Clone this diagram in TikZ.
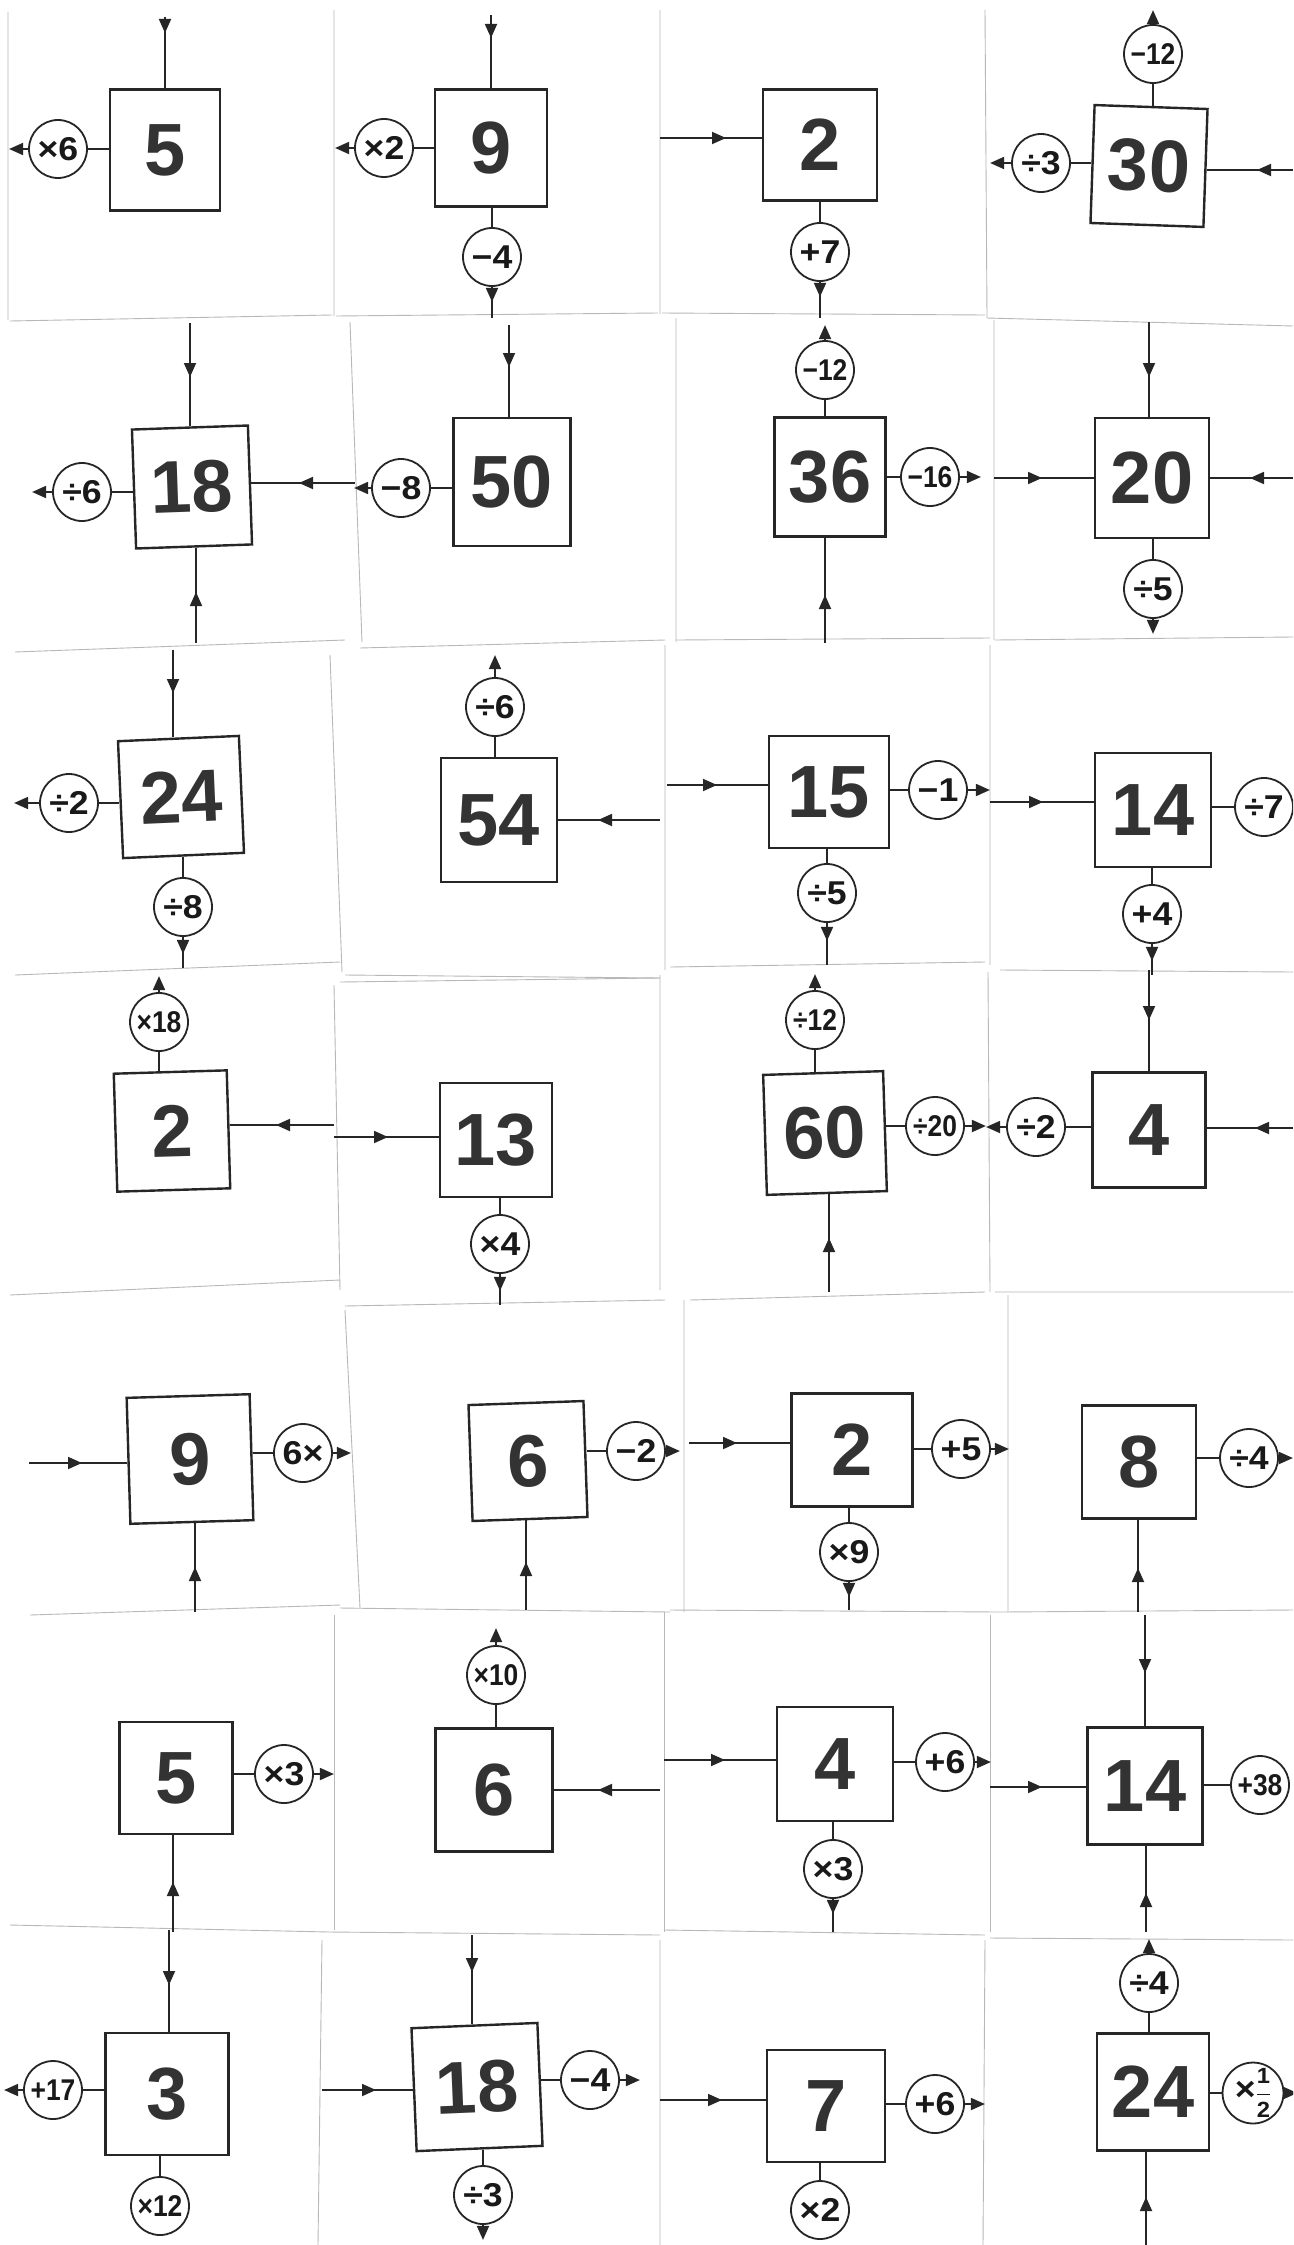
\documentclass[tikz,border=0pt]{standalone}
\usepackage{amsmath}
\usepackage{fontspec}
\setmainfont{Liberation Sans}
\newfontfamily\opfont{Liberation Sans}[FakeStretch=1.08]
\newfontfamily\opnarrow{Liberation Sans}[FakeStretch=0.88]
\usetikzlibrary{arrows.meta,decorations.markings}
\begin{document}
\begin{tikzpicture}[x=1pt,y=-1pt,
  numbox/.style={draw=black!85, line width=2.4pt, minimum width=114pt, minimum height=118pt, inner sep=0pt, font=\fontsize{74}{74}\selectfont\bfseries, text=black!80},
  op/.style={draw=black!85, circle, line width=1.8pt, minimum size=58pt, inner sep=0pt, font=\opfont\fontsize{33}{33}\selectfont\bfseries, text=black!90},
  opw/.style={op, font=\opnarrow\fontsize{30}{30}\selectfont\bfseries},
  ln/.style={draw=black!85, line width=1.8pt},
  outarr/.style={ln, -{Triangle[length=14pt,width=12pt]}},
  midarr/.style={postaction={decorate}, decoration={markings, mark=at position #1 with {\arrow{Triangle[length=14pt,width=12pt]}}}},
  cardedge/.style={draw=black!28, line width=0.9pt}
]
\useasboundingbox (0,0) rectangle (1293,2245);
\clip (0,0) rectangle (1293,2245);
\fill[white] (0,0) rectangle (1293,2245);

% ---------- card edges ----------
\draw[cardedge] (8,12) -- (8,320) (334,10) -- (334,316) (660,10) -- (660,314) (985,10) -- (987,318);
\draw[cardedge] (10,321) -- (332,315) (336,316) -- (658,313) (662,313) -- (985,315) (987,318) -- (1293,326);
\draw[cardedge] (350,322) -- (362,642) (676,318) -- (676,642) (994,320) -- (994,640);
\draw[cardedge] (15,652) -- (345,640) (360,648) -- (665,640) (676,640) -- (990,638) (995,640) -- (1293,637);
\draw[cardedge] (330,655) -- (342,972) (665,645) -- (665,970) (990,645) -- (990,965);
\draw[cardedge] (15,975) -- (340,962) (345,975) -- (660,978) (670,967) -- (985,962) (1000,970) -- (1293,972);
\draw[cardedge] (334,985) -- (340,1290) (660,975) -- (660,1290) (988,972) -- (990,1292) (340,982) -- (660,978);
\draw[cardedge] (10,1295) -- (340,1280) (345,1306) -- (665,1300) (690,1300) -- (985,1292) (995,1292) -- (1293,1292);
\draw[cardedge] (345,1310) -- (360,1608) (684,1300) -- (684,1612) (1008,1295) -- (1008,1612);
\draw[cardedge] (30,1615) -- (340,1605) (340,1608) -- (670,1612) (670,1610) -- (1000,1612) (1000,1612) -- (1293,1610);
\draw[cardedge] (334,1615) -- (334,1930) (664,1612) -- (664,1932) (990,1615) -- (990,1932);
\draw[cardedge] (10,1925) -- (330,1932) (330,1932) -- (660,1935) (665,1930) -- (985,1935) (990,1938) -- (1293,1940);
\draw[cardedge] (322,1940) -- (318,2245) (660,1940) -- (660,2245) (985,1940) -- (983,2245);

% ================= Row 1 =================
% A1
\node[numbox, minimum width=110pt, minimum height=121pt] (bA1) at (165,150) {5};
\node[op] (oA1l) at (58,149) {×6};
\coordinate (iA1t) at (165,17);
\draw[ln] (oA1l) -- (oA1l -| bA1.west);
\draw[outarr] (oA1l.west) -- ++(-19,0);
\draw[ln, midarr=16pt] (iA1t) -- (iA1t |- bA1.north);
% B1
\node[numbox, minimum width=112pt, minimum height=117pt] (bB1) at (491,148) {9};
\node[op] (oB1l) at (384,148) {×2};
\node[op] (oB1b) at (492,257) {−4};
\coordinate (iB1t) at (491,15);
\coordinate (eB1b) at (492,318);
\draw[ln] (oB1l) -- (oB1l -| bB1.west);
\draw[outarr] (oB1l.west) -- ++(-19,0);
\draw[ln] (oB1b) -- (oB1b |- bB1.south);
\draw[ln, midarr=15pt] (oB1b) -- (eB1b);
\draw[ln, midarr=23pt] (iB1t) -- (iB1t |- bB1.north);
% C1
\node[numbox, minimum width=114pt, minimum height=111pt] (bC1) at (820,145) {2};
\node[op] (oC1b) at (820,252) {+7};
\coordinate (iC1l) at (660,138);
\coordinate (eC1b) at (820,318);
\draw[ln, midarr=66pt] (iC1l) -- (iC1l -| bC1.west);
\draw[ln] (oC1b) -- (oC1b |- bC1.south);
\draw[ln, midarr=15pt] (oC1b) -- (eC1b);
% D1
\node[numbox, minimum width=113pt, minimum height=118pt, rotate=-2] (bD1) at (1149,166) {30};
\node[opw] (oD1t) at (1153,54) {−12};
\node[op] (oD1l) at (1041,163) {÷3};
\coordinate (iD1r) at (1293,170);
\draw[ln] (oD1t) -- (oD1t |- bD1.north);
\draw[outarr] (oD1t.north) -- ++(0,-14);
\draw[ln] (oD1l) -- (oD1l -| bD1.west);
\draw[outarr] (oD1l.west) -- ++(-21,0);
\draw[ln, midarr=36pt] (iD1r) -- (iD1r -| bD1.east);

% ================= Row 2 =================
% A2
\node[numbox, minimum width=116pt, minimum height=119pt, rotate=2] (bA2) at (192,487) {18};
\node[op] (oA2l) at (82,492) {÷6};
\coordinate (iA2t) at (190,323);
\coordinate (iA2b) at (196,643);
\coordinate (iA2r) at (355,483);
\draw[ln] (oA2l) -- (oA2l -| bA2.west);
\draw[outarr] (oA2l.west) -- ++(-20,0);
\draw[ln, midarr=54pt] (iA2t) -- (iA2t |- bA2.north);
\draw[ln, midarr=51pt] (iA2b) -- (iA2b |- bA2.south);
\draw[ln, midarr=56pt] (iA2r) -- (iA2r -| bA2.east);
% B2
\node[numbox, minimum width=117pt, minimum height=128pt] (bB2) at (512,482) {50};
\node[op] (oB2l) at (401,488) {−8};
\coordinate (iB2t) at (509,325);
\draw[ln] (oB2l) -- (oB2l -| bB2.west);
\draw[outarr] (oB2l.west) -- ++(-17,0);
\draw[ln, midarr=42pt] (iB2t) -- (iB2t |- bB2.north);
% C2
\node[numbox, minimum width=111pt, minimum height=119pt] (bC2) at (830,477) {36};
\node[opw] (oC2t) at (825,370) {−12};
\node[opw] (oC2r) at (930,477) {−16};
\coordinate (iC2b) at (825,643);
\draw[ln] (oC2t) -- (oC2t |- bC2.north);
\draw[outarr] (oC2t.north) -- ++(0,-15);
\draw[ln] (oC2r) -- (oC2r -| bC2.east);
\draw[outarr] (oC2r.east) -- ++(21,0);
\draw[ln, midarr=48pt] (iC2b) -- (iC2b |- bC2.south);
% D2
\node[numbox, minimum width=114pt, minimum height=120pt] (bD2) at (1152,478) {20};
\node[op] (oD2b) at (1153,589) {÷5};
\coordinate (iD2t) at (1149,322);
\coordinate (iD2l) at (994,478);
\coordinate (iD2r) at (1293,478);
\draw[ln, midarr=55pt] (iD2t) -- (iD2t |- bD2.north);
\draw[ln, midarr=48pt] (iD2l) -- (iD2l -| bD2.west);
\draw[ln, midarr=43pt] (iD2r) -- (iD2r -| bD2.east);
\draw[ln] (oD2b) -- (oD2b |- bD2.south);
\draw[outarr] (oD2b.south) -- ++(0,15);

% ================= Row 3 =================
% A3
\node[numbox, minimum width=121pt, minimum height=117pt, rotate=2.5] (bA3) at (181,797) {24};
\node[op] (oA3l) at (69,803) {÷2};
\node[op] (oA3b) at (183,907) {÷8};
\coordinate (iA3t) at (173,650);
\coordinate (eA3b) at (183,968);
\draw[ln] (oA3l) -- (oA3l -| bA3.west);
\draw[outarr] (oA3l.west) -- ++(-25,0);
\draw[ln] (oA3b) -- (oA3b |- bA3.south);
\draw[ln, midarr=17pt] (oA3b) -- (eA3b);
\draw[ln, midarr=43pt] (iA3t) -- (iA3t |- bA3.north);
% B3
\node[numbox, minimum width=116pt, minimum height=124pt] (bB3) at (499,820) {54};
\node[op] (oB3t) at (495,707) {÷6};
\coordinate (iB3r) at (660,820);
\draw[ln] (oB3t) -- (oB3t |- bB3.north);
\draw[outarr] (oB3t.north) -- ++(0,-22);
\draw[ln, midarr=62pt] (iB3r) -- (iB3r -| bB3.east);
% C3
\node[numbox, minimum width=120pt, minimum height=112pt] (bC3) at (829,792) {15};
\node[op] (oC3r) at (938,790) {−1};
\node[op] (oC3b) at (827,893) {÷5};
\coordinate (iC3l) at (667,785);
\coordinate (eC3b) at (827,965);
\draw[ln, midarr=50pt] (iC3l) -- (iC3l -| bC3.west);
\draw[ln] (oC3r) -- (oC3r -| bC3.east);
\draw[outarr] (oC3r.east) -- ++(22,0);
\draw[ln] (oC3b) -- (oC3b |- bC3.south);
\draw[ln, midarr=18pt] (oC3b) -- (eC3b);
% D3
\node[numbox, minimum width=116pt, minimum height=114pt] (bD3) at (1153,810) {14};
\node[op] (oD3r) at (1264,807) {÷7};
\node[op] (oD3b) at (1152,914) {+4};
\coordinate (iD3l) at (990,802);
\coordinate (eD3b) at (1152,975);
\draw[ln, midarr=53pt] (iD3l) -- (iD3l -| bD3.west);
\draw[ln] (oD3r) -- (oD3r -| bD3.east);
\draw[ln] (oD3b) -- (oD3b |- bD3.south);
\draw[ln, midarr=17pt] (oD3b) -- (eD3b);

% ================= Row 4 =================
% A4
\node[numbox, minimum width=113pt, minimum height=118pt, rotate=1.7] (bA4) at (172,1131) {2};
\node[opw] (oA4t) at (159,1022) {×18};
\coordinate (iA4r) at (334,1125);
\draw[ln] (oA4t) -- (oA4t |- bA4.north);
\draw[outarr] (oA4t.north) -- ++(0,-16);
\draw[ln, midarr=58pt] (iA4r) -- (iA4r -| bA4.east);
% B4
\node[numbox, minimum width=112pt, minimum height=114pt] (bB4) at (496,1140) {13};
\node[op] (oB4b) at (500,1244) {×4};
\coordinate (iB4l) at (334,1137);
\coordinate (eB4b) at (500,1305);
\draw[ln, midarr=54pt] (iB4l) -- (iB4l -| bB4.west);
\draw[ln] (oB4b) -- (oB4b |- bB4.south);
\draw[ln, midarr=17pt] (oB4b) -- (eB4b);
% C4
\node[numbox, minimum width=120pt, minimum height=120pt, rotate=1.8] (bC4) at (825,1133) {60};
\node[opw] (oC4t) at (815,1020) {÷12};
\node[opw] (oC4r) at (935,1126) {÷20};
\coordinate (iC4b) at (829,1292);
\draw[ln] (oC4t) -- (oC4t |- bC4.north);
\draw[outarr] (oC4t.north) -- ++(0,-16);
\draw[ln] (oC4r) -- (oC4r -| bC4.east);
\draw[outarr] (oC4r.east) -- ++(21,0);
\draw[ln, midarr=54pt] (iC4b) -- (iC4b |- bC4.south);
% D4
\node[numbox, minimum width=113pt, minimum height=115pt] (bD4) at (1149,1130) {4};
\node[op] (oD4l) at (1036,1127) {÷2};
\coordinate (iD4t) at (1149,970);
\coordinate (iD4r) at (1293,1128);
\draw[ln, midarr=50pt] (iD4t) -- (iD4t |- bD4.north);
\draw[ln] (oD4l) -- (oD4l -| bD4.west);
\draw[outarr] (oD4l.west) -- ++(-20,0);
\draw[ln, midarr=38pt] (iD4r) -- (iD4r -| bD4.east);

% ================= Row 5 =================
% A5
\node[numbox, minimum width=123pt, minimum height=126pt, rotate=1.7] (bA5) at (190,1459) {9};
\node[op] (oA5r) at (303,1453) {6×};
\coordinate (iA5l) at (29,1463);
\coordinate (iA5b) at (195,1612);
\draw[ln, midarr=53pt] (iA5l) -- (iA5l -| bA5.west);
\draw[ln] (oA5r) -- (oA5r -| bA5.east);
\draw[outarr] (oA5r.east) -- ++(18,0);
\draw[ln, midarr=45pt] (iA5b) -- (iA5b |- bA5.south);
% B5
\node[numbox, minimum width=115pt, minimum height=116pt, rotate=2] (bB5) at (528,1461) {6};
\node[op] (oB5r) at (636,1451) {−2};
\coordinate (iB5b) at (526,1610);
\draw[ln] (oB5r) -- (oB5r -| bB5.east);
\draw[outarr] (oB5r.east) -- ++(14,0);
\draw[ln, midarr=48pt] (iB5b) -- (iB5b |- bB5.south);
% C5
\node[numbox, minimum width=121pt, minimum height=113pt] (bC5) at (852,1450) {2};
\node[op] (oC5r) at (961,1449) {+5};
\node[op] (oC5b) at (849,1552) {×9};
\coordinate (iC5l) at (689,1443);
\coordinate (eC5b) at (849,1610);
\draw[ln, midarr=48pt] (iC5l) -- (iC5l -| bC5.west);
\draw[ln] (oC5r) -- (oC5r -| bC5.east);
\draw[outarr] (oC5r.east) -- ++(18,0);
\draw[ln] (oC5b) -- (oC5b |- bC5.south);
\draw[ln, midarr=15pt] (oC5b) -- (eC5b);
% D5
\node[numbox, minimum width=114pt, minimum height=113pt] (bD5) at (1139,1462) {8};
\node[op] (oD5r) at (1249,1458) {÷4};
\coordinate (iD5b) at (1138,1612);
\draw[ln] (oD5r) -- (oD5r -| bD5.east);
\draw[outarr] (oD5r.east) -- ++(14,0);
\draw[ln, midarr=44pt] (iD5b) -- (iD5b |- bD5.south);

% ================= Row 6 =================
% A6
\node[numbox, minimum width=113pt, minimum height=112pt] (bA6) at (176,1778) {5};
\node[op] (oA6r) at (284,1774) {×3};
\coordinate (iA6b) at (173,1932);
\draw[ln] (oA6r) -- (oA6r -| bA6.east);
\draw[outarr] (oA6r.east) -- ++(20,0);
\draw[ln, midarr=50pt] (iA6b) -- (iA6b |- bA6.south);
% B6
\node[numbox, minimum width=117pt, minimum height=123pt] (bB6) at (494,1790) {6};
\node[opw] (oB6t) at (496,1675) {×10};
\coordinate (iB6r) at (660,1790);
\draw[ln] (oB6t) -- (oB6t |- bB6.north);
\draw[outarr] (oB6t.north) -- ++(0,-17);
\draw[ln, midarr=62pt] (iB6r) -- (iB6r -| bB6.east);
% C6
\node[numbox, minimum width=116pt, minimum height=114pt] (bC6) at (835,1764) {4};
\node[op] (oC6r) at (945,1762) {+6};
\node[op] (oC6b) at (833,1869) {×3};
\coordinate (iC6l) at (664,1760);
\coordinate (eC6b) at (833,1932);
\draw[ln, midarr=61pt] (iC6l) -- (iC6l -| bC6.west);
\draw[ln] (oC6r) -- (oC6r -| bC6.east);
\draw[outarr] (oC6r.east) -- ++(16,0);
\draw[ln] (oC6b) -- (oC6b |- bC6.south);
\draw[ln, midarr=15pt] (oC6b) -- (eC6b);
% D6
\node[numbox, minimum width=115pt, minimum height=117pt] (bD6) at (1145,1786) {14};
\node[opw] (oD6r) at (1260,1785) {+38};
\coordinate (iD6t) at (1145,1615);
\coordinate (iD6l) at (990,1787);
\coordinate (iD6b) at (1146,1932);
\draw[ln, midarr=58pt] (iD6t) -- (iD6t |- bD6.north);
\draw[ln, midarr=52pt] (iD6l) -- (iD6l -| bD6.west);
\draw[ln] (oD6r) -- (oD6r -| bD6.east);
\draw[ln, midarr=39pt] (iD6b) -- (iD6b |- bD6.south);

% ================= Row 7 =================
% A7
\node[numbox, minimum width=123pt, minimum height=122pt] (bA7) at (167,2094) {3};
\node[opw] (oA7l) at (53,2090) {+17};
\node[opw] (oA7b) at (160,2206) {×12};
\coordinate (iA7t) at (169,1930);
\draw[ln, midarr=55pt] (iA7t) -- (iA7t |- bA7.north);
\draw[ln] (oA7l) -- (oA7l -| bA7.west);
\draw[outarr] (oA7l.west) -- ++(-19,0);
\draw[ln] (oA7b) -- (oA7b |- bA7.south);
% B7
\node[numbox, minimum width=126pt, minimum height=123pt, rotate=2.4] (bB7) at (477,2087) {18};
\node[op] (oB7r) at (590,2080) {−4};
\node[op] (oB7b) at (483,2195) {÷3};
\coordinate (iB7t) at (472,1935);
\coordinate (iB7l) at (322,2090);
\draw[ln, midarr=37pt] (iB7t) -- (iB7t |- bB7.north);
\draw[ln, midarr=54pt] (iB7l) -- (iB7l -| bB7.west);
\draw[ln] (oB7r) -- (oB7r -| bB7.east);
\draw[outarr] (oB7r.east) -- ++(20,0);
\draw[ln] (oB7b) -- (oB7b |- bB7.south);
\draw[outarr] (oB7b.south) -- ++(0,15);
% C7
\node[numbox, minimum width=118pt, minimum height=112pt] (bC7) at (826,2106) {7};
\node[op] (oC7r) at (935,2104) {+6};
\node[op] (oC7b) at (820,2210) {×2};
\coordinate (iC7l) at (660,2100);
\draw[ln, midarr=62pt] (iC7l) -- (iC7l -| bC7.west);
\draw[ln] (oC7r) -- (oC7r -| bC7.east);
\draw[outarr] (oC7r.east) -- ++(20,0);
\draw[ln] (oC7b) -- (oC7b |- bC7.south);
% D7
\node[numbox, minimum width=112pt, minimum height=117pt] (bD7) at (1153,2092) {24};
\node[op] (oD7t) at (1149,1983) {÷4};
\node[op] (oD7r) at (1253,2093) {×$\genfrac{}{}{1.4pt}{0}{\text{\fontsize{22}{22}\selectfont 1}}{\text{\fontsize{22}{22}\selectfont 2}}$};
\coordinate (iD7b) at (1146,2245);
\draw[ln] (oD7t) -- (oD7t |- bD7.north);
\draw[outarr] (oD7t.north) -- ++(0,-14);
\draw[ln] (oD7r) -- (oD7r -| bD7.east);
\draw[outarr] (oD7r.east) -- ++(13,0);
\draw[ln, midarr=48pt] (iD7b) -- (iD7b |- bD7.south);
\end{tikzpicture}
\end{document}
